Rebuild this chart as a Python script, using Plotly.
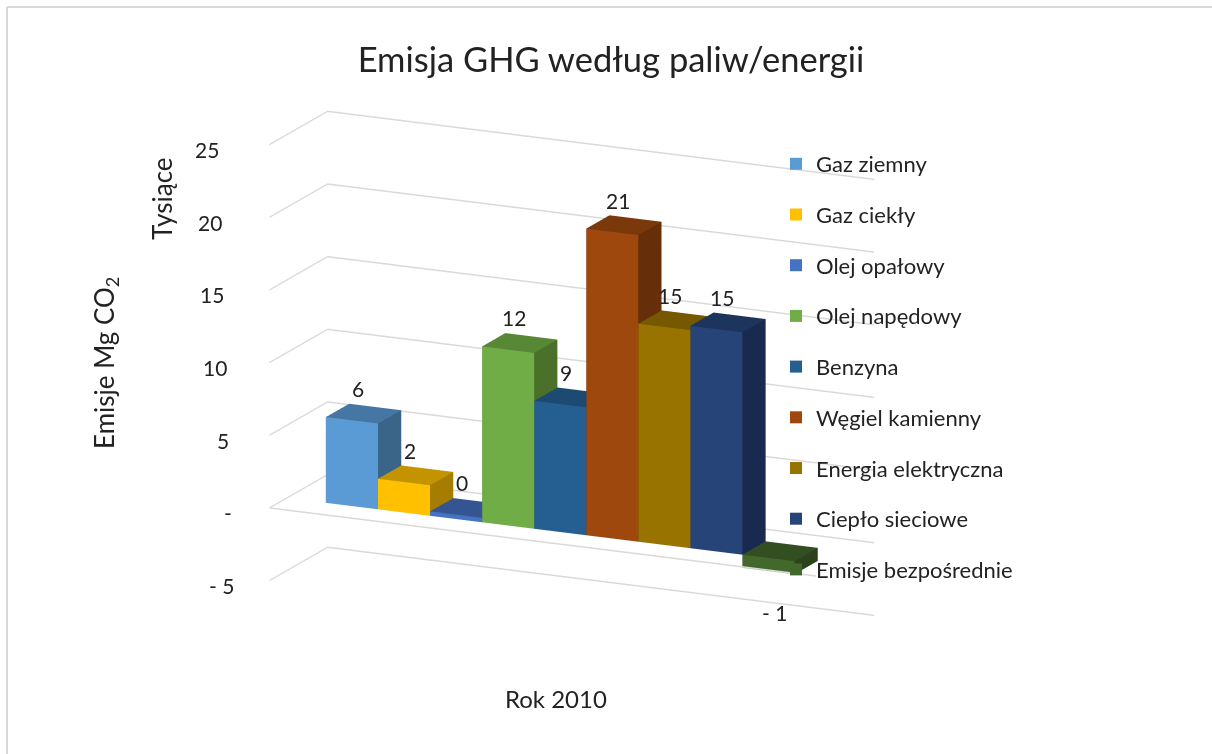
import plotly.graph_objects as go

NAMES = ["Gaz ziemny", "Gaz ciekły", "Olej opałowy", "Olej napędowy", "Benzyna",
         "Węgiel kamienny", "Energia elektryczna", "Ciepło sieciowe", "Emisje bezpośrednie"]
VALUES = [5.9, 2.1, 0.3, 12.1, 8.8, 21.1, 15.0, 15.3, -0.9]
LABELS = ["6", "2", "0", "12", "9", "21", "15", "15", "- 1"]
FRONT = ["#5B9BD5", "#FFC000", "#4472C4", "#70AD47", "#255E91", "#9E480E", "#997300", "#264478", "#43682B"]
TOP = ["#4677A4", "#C49300", "#355592", "#588735", "#1D4A72", "#7A380B", "#755800", "#1D345C", "#334F21"]
SIDE = ["#3B6489", "#A67D00", "#2C477A", "#4A7029", "#183E60", "#662E09", "#624A00", "#19294F", "#2B421C"]
Z_TICKS = [-5, 0, 5, 10, 15, 20, 25]
Z_TEXT = ["- 5", "-", "5", "10", "15", "20", "25"]
FONT = "Lato"
TXT = "#222222"
L, D = 10.5, 2.5
GAP = 0.75
I = [0, 0, 3, 3, 1, 1, 4, 4, 0, 0, 0, 0]
J = [1, 2, 2, 6, 2, 6, 5, 6, 3, 7, 1, 5]
K = [2, 3, 6, 7, 6, 5, 6, 7, 7, 4, 5, 4]

fig = go.Figure()
for n, (name, v) in enumerate(zip(NAMES, VALUES)):
    x0, x1 = GAP + n, GAP + n + 1
    y0, y1 = 0.3 * D, 0.7 * D
    lo, hi = min(0, v), max(0, v)
    fc = [FRONT[n]] * 2 + [TOP[n]] * 2 + [SIDE[n]] * 6 + [TOP[n]] * 2
    fig.add_trace(go.Mesh3d(
        x=[x0, x1, x1, x0, x0, x1, x1, x0],
        y=[y0, y0, y0, y0, y1, y1, y1, y1],
        z=[lo, lo, hi, hi, lo, lo, hi, hi],
        i=I, j=J, k=K,
        facecolor=fc, flatshading=True, hoverinfo="skip", showlegend=False,
        lighting=dict(ambient=1, diffuse=0, specular=0, roughness=1, fresnel=0),
    ))
    fig.add_trace(go.Scatter3d(x=[None], y=[None], z=[None], mode="markers", name=name,
                               legendgroup=name,
                               marker=dict(symbol="square", size=14, color=FRONT[n])))
fig.add_trace(go.Scatter3d(x=[0, L], y=[0, 0], z=[0, 0], mode="lines", showlegend=False,
                           hoverinfo="skip", line=dict(color="#D9D9D9", width=3)))

annos = []
for n, (v, t) in enumerate(zip(VALUES, LABELS)):
    annos.append(dict(x=GAP + n + 0.5, y=0.4 * D, z=v, text=t, showarrow=False,
                      font=dict(family=FONT, size=21, color=TXT),
                      yanchor="bottom" if v >= 0 else "top", yshift=14 if v >= 0 else -30))
for z, t in zip(Z_TICKS, Z_TEXT):
    annos.append(dict(x=0, y=0, z=z, text=t, showarrow=False, xanchor="right", yanchor="middle",
                      xshift=-48 + (25 - z) * 0.5, yshift=-5,
                      font=dict(family=FONT, size=21, color=TXT)))

axis_off = dict(showgrid=False, showticklabels=False, zeroline=False, showline=False,
                showbackground=False, ticks="", title="", showspikes=False)
fig.update_layout(
    width=1212, height=754, margin=dict(l=0, r=0, t=0, b=0),
    paper_bgcolor="white", font=dict(family=FONT, color=TXT),
    title=dict(text="Emisja GHG według paliw/energii", x=611 / 1212, xanchor="center", y=1 - 60 / 754, yanchor="middle",
               font=dict(family=FONT, size=34.5, color=TXT)),
    scene=dict(
        domain=dict(x=[0, 1], y=[0, 1]),
        xaxis=dict(axis_off, range=[0, L]),
        yaxis=dict(axis_off, range=[0, D]),
        zaxis=dict(axis_off, range=[-5, 25], tickvals=Z_TICKS, showgrid=True, gridcolor="#D9D9D9", gridwidth=3),
        aspectmode="manual", aspectratio=dict(x=1.6, y=0.365, z=1.2),
        camera=dict(eye=dict(x=0.507, y=-0.873, z=0.287), center=dict(x=0.10, y=0, z=0.02), up=dict(x=0, y=0, z=1),
                    projection=dict(type="orthographic")),
        annotations=annos,
    ),
    legend=dict(x=776 / 1212, y=1 - 143 / 754, xanchor="left", yanchor="top", tracegroupgap=19.1, bgcolor="rgba(0,0,0,0)",
                font=dict(family=FONT, size=22, color=TXT), itemsizing="constant"),
    annotations=[
        dict(text="Emisje Mg CO<sub>2</sub>", x=105 / 1212, y=1 - 363 / 754, xref="paper", yref="paper",
             xanchor="center", yanchor="middle",
             showarrow=False, textangle=-90, font=dict(family=FONT, size=26, color=TXT)),
        dict(text="Tysiące", x=162 / 1212, y=1 - 199 / 754, xref="paper", yref="paper",
             xanchor="center", yanchor="middle",
             showarrow=False, textangle=-90, font=dict(family=FONT, size=26, color=TXT)),
        dict(text="Rok 2010", x=556 / 1212, y=1 - 698 / 754, xref="paper", yref="paper",
             xanchor="center", yanchor="middle",
             showarrow=False, font=dict(family=FONT, size=24, color=TXT)),
    ],
    shapes=[
        dict(type="line", xref="paper", yref="paper", x0=7 / 1212, x1=7 / 1212, y0=0, y1=1 - 7 / 754,
             line=dict(color="#D9D9D9", width=2)),
        dict(type="line", xref="paper", yref="paper", x0=7 / 1212, x1=1, y0=1 - 7 / 754, y1=1 - 7 / 754,
             line=dict(color="#D9D9D9", width=2)),
    ],
)
fig.write_html("out.html", config=dict(displayModeBar=False),
               post_script="document.body.style.margin='0';document.body.style.overflow='hidden';")
